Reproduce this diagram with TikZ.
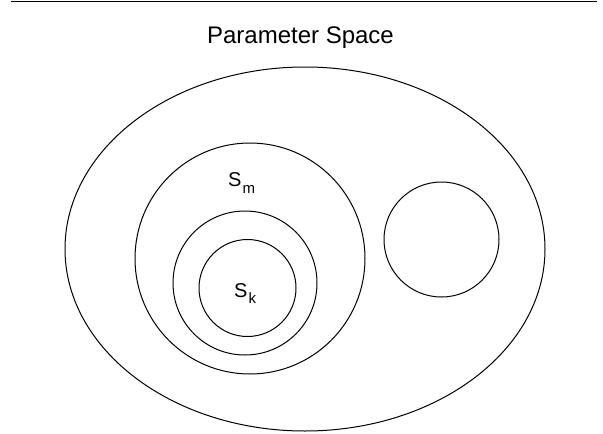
\documentclass[tikz,border=0pt]{standalone}
\usepackage{fontspec}
\setmainfont{Liberation Sans}
\usetikzlibrary{shapes.geometric, positioning}

\begin{document}
\begin{tikzpicture}[
    x=1pt, y=-1pt,
    region/.style={ellipse, draw=black, line width=1pt, inner sep=0pt},
    setlabel/.style={inner sep=0pt, anchor=base west, font=\fontsize{20}{20}\selectfont},
]
    \useasboundingbox (0,0) rectangle (603,434);

    % rule and title
    \coordinate (ruleL) at (11,1.5);
    \coordinate (ruleR) at (597,1.5);
    \draw[line width=1.3pt] (ruleL) -- (ruleR);
    \node[anchor=base, inner sep=0pt, font=\fontsize{24}{24}\selectfont] (title) at (300.5,43) {Parameter Space};

    % nested regions
    \node[region, minimum width=480pt, minimum height=364pt] (space) at (305,249) {};
    \node[region, minimum width=230pt, minimum height=231pt] (sm) at (250,258.5) {};
    \node[region, minimum width=144pt, minimum height=144pt] (mid) at (245,283) {};
    \node[region, minimum width=97pt, minimum height=97pt] (sk) at (247.5,288) {};
    \node[region, minimum width=115pt, minimum height=115pt] (other) at (441.5,239.5) {};

    % labels
    \node[setlabel] (smlabel) at (228,186) {S\kern1pt\raisebox{-7pt}{\fontsize{15}{15}\selectfont m}};
    \node[setlabel] (sklabel) at (234,297) {S\kern1pt\raisebox{-6pt}{\fontsize{15}{15}\selectfont k}};
\end{tikzpicture}
\end{document}
